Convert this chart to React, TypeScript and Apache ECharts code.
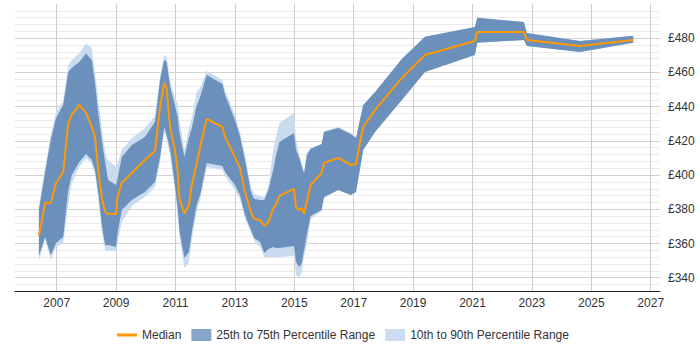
import React, { useEffect, useRef } from "react";
import * as echarts from "echarts";

// Survey dates (fractional years) and weekly rate percentiles in £
const YEARS = [2006.40, 2006.61, 2006.80, 2006.98, 2007.22, 2007.39, 2007.51, 2007.76, 2007.99, 2008.18, 2008.29, 2008.40, 2008.52, 2008.63, 2008.73, 2009.00, 2009.04, 2009.19, 2009.53, 2009.97, 2010.31, 2010.48, 2010.62, 2010.70, 2010.82, 2010.98, 2011.07, 2011.13, 2011.30, 2011.45, 2011.55, 2011.71, 2011.83, 2012.05, 2012.58, 2012.67, 2013.00, 2013.17, 2013.34, 2013.54, 2013.65, 2013.85, 2013.99, 2014.13, 2014.29, 2014.38, 2014.50, 2014.99, 2015.06, 2015.17, 2015.25, 2015.33, 2015.42, 2015.55, 2015.92, 2016.00, 2016.48, 2016.90, 2017.08, 2017.21, 2017.32, 2017.72, 2018.62, 2019.40, 2021.08, 2021.16, 2022.73, 2022.83, 2024.62, 2026.41];

const P90 = [381.3, 404.2, 423.5, 436.9, 443.3, 464.4, 467.3, 471.4, 477.0, 474.3, 460.3, 443.9, 427.5, 412.9, 408.8, 404.7, 405.9, 414.7, 421.7, 427.5, 434.6, 458.0, 470.2, 469.1, 455.6, 445.1, 442.2, 432.2, 414.7, 427.5, 433.4, 448.6, 450.9, 460.9, 455.6, 449.8, 435.2, 425.2, 411.8, 393.0, 389.0, 387.8, 387.2, 393.6, 414.7, 422.3, 430.5, 436.3, 420.5, 411.8, 407.1, 401.2, 412.9, 415.9, 418.2, 425.8, 428.1, 424.6, 422.3, 432.2, 441.0, 448.6, 467.9, 480.8, 486.6, 491.9, 489.5, 483.1, 478.4, 481.4];

const P75 = [379.6, 401.8, 420.5, 433.4, 441.0, 460.3, 462.6, 466.1, 471.1, 467.3, 453.9, 436.3, 420.5, 407.7, 397.1, 394.2, 397.1, 410.6, 417.6, 422.3, 431.1, 455.6, 467.3, 466.1, 451.5, 441.0, 434.0, 425.2, 410.6, 421.7, 427.5, 440.4, 445.7, 458.5, 453.3, 446.8, 432.2, 422.9, 408.8, 390.1, 386.0, 385.4, 385.4, 391.3, 403.0, 411.2, 419.4, 424.6, 414.7, 410.0, 405.3, 401.2, 411.8, 415.3, 418.2, 425.2, 427.5, 424.0, 421.7, 432.2, 441.0, 448.6, 467.9, 480.8, 486.6, 491.9, 489.5, 483.1, 478.4, 481.4];

const MEDIAN = [364.4, 383.7, 383.7, 395.4, 401.8, 430.5, 435.2, 441.0, 436.3, 428.1, 422.3, 403.0, 386.6, 378.4, 377.3, 377.3, 386.6, 395.4, 401.2, 408.8, 414.1, 439.8, 453.9, 450.9, 427.5, 414.7, 403.0, 386.6, 377.3, 382.5, 394.2, 406.5, 416.4, 432.8, 428.1, 422.3, 410.6, 404.2, 390.1, 378.4, 374.3, 373.7, 370.2, 372.6, 380.8, 382.5, 387.8, 391.9, 380.8, 379.6, 380.8, 377.3, 384.3, 394.2, 401.2, 407.1, 410.0, 405.9, 406.5, 418.8, 428.1, 438.1, 456.8, 470.2, 478.4, 483.7, 483.7, 479.0, 475.5, 479.0];

const P25 = [352.7, 363.8, 353.3, 360.3, 363.8, 391.3, 400.1, 407.7, 412.3, 408.8, 403.0, 389.5, 370.8, 359.1, 359.1, 358.0, 365.0, 379.6, 385.4, 390.1, 396.0, 410.6, 428.1, 423.5, 414.7, 394.2, 380.8, 367.9, 351.5, 355.0, 366.7, 382.5, 388.4, 407.1, 405.3, 401.8, 394.2, 388.4, 376.7, 367.9, 363.2, 360.9, 354.5, 356.8, 358.0, 357.4, 357.4, 358.5, 349.2, 346.3, 348.6, 356.2, 365.0, 376.1, 379.6, 387.2, 391.3, 388.4, 390.1, 403.6, 414.7, 425.2, 443.9, 460.3, 470.2, 477.3, 479.0, 475.5, 472.0, 477.3];

const P10 = [349.8, 362.6, 350.4, 358.0, 360.3, 382.5, 395.4, 404.7, 410.0, 406.5, 400.1, 386.6, 366.7, 356.2, 355.6, 355.6, 359.1, 372.6, 381.9, 387.2, 393.0, 407.7, 425.2, 420.5, 411.8, 391.3, 376.7, 364.4, 345.7, 348.6, 362.0, 378.4, 385.4, 404.7, 403.0, 399.5, 391.3, 386.0, 374.3, 366.1, 361.5, 358.0, 352.1, 352.1, 352.1, 352.1, 352.1, 352.7, 341.6, 339.8, 343.3, 352.7, 359.1, 374.3, 379.0, 386.6, 391.3, 388.4, 390.1, 403.6, 414.7, 425.2, 443.9, 460.3, 470.2, 477.3, 479.0, 475.5, 472.0, 477.3];

const YEAR_TICKS = [2007, 2009, 2011, 2013, 2015, 2017, 2019, 2021, 2023, 2025, 2027];
const RATE_LABELS = [340, 360, 380, 400, 420, 440, 460, 480];

const NAME_MEDIAN = "Median";
const NAME_IQR = "25th to 75th Percentile Range";
const NAME_P10_90 = "10th to 90th Percentile Range";

const FONT = "'Liberation Sans', Arial, sans-serif";

// A filled band between two percentile curves, drawn as one polygon
function bandSeries(name: string, lows: number[], highs: number[], fill: string, legendColor: string, z: number) {
  return {
    type: "custom",
    name,
    z,
    silent: true,
    itemStyle: { color: legendColor },
    data: YEARS.map((y, i) => [y, lows[i], highs[i]]),
    encode: { x: 0, y: [1, 2] },
    renderItem: (params: any, api: any) => {
      if (params.dataIndex !== 0) return null;
      const upper = YEARS.map((y, i) => api.coord([y, highs[i]]));
      const lower = YEARS.map((y, i) => api.coord([y, lows[i]])).reverse();
      return {
        type: "polygon",
        shape: { points: upper.concat(lower) },
        style: { fill },
      };
    },
  };
}

export default function App() {
  const ref = useRef<HTMLDivElement>(null);

  useEffect(() => {
    if (!ref.current) return;
    const chart = echarts.init(ref.current, null, { renderer: "svg" });
    const minor = "#ebebeb";
    const major = "#d2d2d2";
    chart.setOption({
      animation: false,
      textStyle: { fontFamily: FONT },
      grid: { left: 15, right: 40, top: 4, bottom: 58.6 },
      legend: {
        left: 112,
        top: 324,
        itemWidth: 20,
        itemHeight: 12,
        itemGap: 10,
        textStyle: { fontFamily: FONT, fontSize: 12, color: "#333" },
        itemStyle: { borderWidth: 0 },
        data: [
          { name: NAME_MEDIAN, icon: "path://M0,0H20V3H0Z" },
          { name: NAME_IQR, icon: "rect" },
          { name: NAME_P10_90, icon: "rect" },
        ],
        selectedMode: false,
      },
      xAxis: {
        type: "value",
        min: 2005.596,
        max: 2027.313,
        axisLine: { show: true, lineStyle: { color: "#222", width: 1 } },
        axisTick: { show: false, customValues: YEAR_TICKS },
        axisLabel: {
          customValues: YEAR_TICKS,
          margin: 6,
          fontSize: 12,
          color: "#333",
          fontFamily: FONT,
          formatter: (v: number) => String(Math.round(v)),
        },
        splitLine: { show: true, lineStyle: { color: "#cfcfcf", width: 1 } },
      },
      yAxis: {
        type: "value",
        position: "right",
        min: 332,
        max: 500,
        interval: 4,
        axisLine: { show: false },
        axisTick: { show: false },
        axisLabel: {
          margin: 8,
          fontSize: 12,
          color: "#333",
          fontFamily: FONT,
          formatter: (v: number) => (RATE_LABELS.includes(Math.round(v)) ? "£" + Math.round(v) : ""),
        },
        splitLine: {
          show: true,
          showMaxLine: false,
          lineStyle: { color: [minor, minor, major, minor, minor], width: 1 },
        },
      },
      series: [
        bandSeries(NAME_P10_90, P10, P90, "#c9dbee", "#ccddef", 2),
        bandSeries(NAME_IQR, P25, P75, "#6b90bb", "#87a5c8", 3),
        {
          type: "line",
          name: NAME_MEDIAN,
          z: 5,
          color: "#ff9900",
          itemStyle: { color: "#ff9900" },
          symbol: "none",
          showSymbol: false,
          lineStyle: { color: "#ff9900", width: 2 },
          data: YEARS.map((y, i) => [y, MEDIAN[i]]),
        },
      ],
    });
    return () => chart.dispose();
  }, []);

  return (
    <div
      ref={ref}
      style={{ position: "fixed", left: 0, top: 0, width: 700, height: 350, background: "#fff" }}
    />
  );
}
